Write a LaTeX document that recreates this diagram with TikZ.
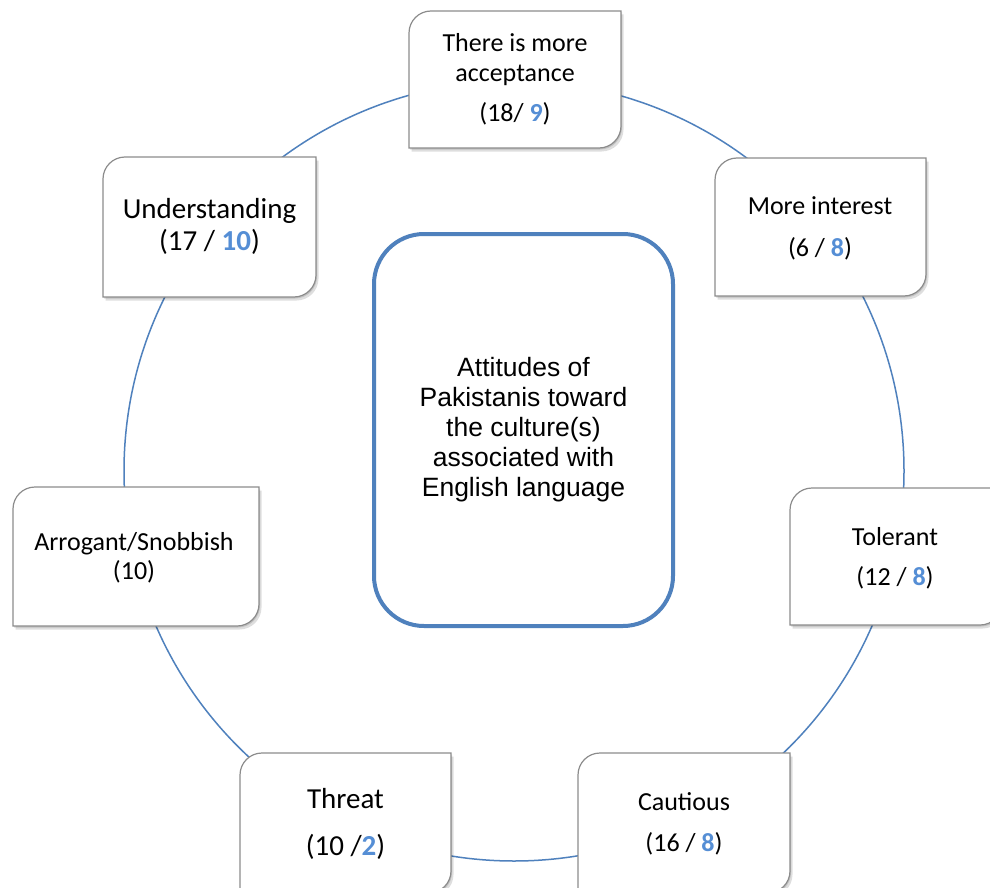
\documentclass[tikz,border=0pt]{standalone}
\usepackage{fontspec}
\setmainfont{Carlito}
\newfontfamily\hubfont{Liberation Sans}
\definecolor{ringblue}{HTML}{4F81BD}
\definecolor{numblue}{HTML}{558ED5}
\definecolor{cardgray}{HTML}{8C8C8C}
\newcommand\num[1]{\textcolor{numblue}{\textbf{#1}}}
% outline of a card: rounded top-left and bottom-right corners
\newcommand\cardoutline[1]{(#1.south west) -- ([yshift=-22pt]#1.north west)
  arc[start angle=180,end angle=90,radius=22pt] -- (#1.north east)
  -- ([yshift=22pt]#1.south east) arc[start angle=0,end angle=-90,radius=22pt] -- cycle}
\newcommand\card[1]{%
  \fill[cardshadow, transform canvas={shift={(1pt,-1.5pt)}}] \cardoutline{#1};
  \fill[cardshadow, transform canvas={shift={(2.5pt,-3.5pt)}}] \cardoutline{#1};
  \draw[cardframe] \cardoutline{#1};}
\begin{document}
\begin{tikzpicture}[x=1pt,y=-1pt,
  ring/.style={draw=ringblue, line width=1.5pt},
  cardframe/.style={draw=cardgray, line width=1.2pt, fill=white},
  cardshadow/.style={fill=black, opacity=0.13},
  slot/.style={draw=none, inner sep=0pt, outer sep=0pt, minimum width=#1},
  txt/.style={anchor=base, inner sep=0pt, font=\fontsize{26}{30}\selectfont},
  bigtxt/.style={anchor=base, inner sep=0pt, font=\fontsize{29}{34}\selectfont},
  hub/.style={draw=ringblue, line width=4pt, rounded corners=50pt, fill=white,
    minimum width=299pt, minimum height=392pt, align=center, inner sep=0pt,
    font=\hubfont\fontsize{26.5}{30}\selectfont}
]
\useasboundingbox[fill=white] (0,0) rectangle (990,888);

% the ring linking the attitudes
\node[circle, ring, minimum size=780pt, inner sep=0pt] (loop) at (514,471) {};

% card placeholders
\node[slot=212pt, minimum height=137pt] (acc) at (515,79.5) {};
\node[slot=213pt, minimum height=140pt] (und) at (209.5,227) {};
\node[slot=246pt, minimum height=139pt] (arr) at (136,556.5) {};
\node[slot=211pt, minimum height=140pt] (thr) at (345.5,823) {};
\node[slot=212pt, minimum height=140pt] (cau) at (684,823) {};
\node[slot=211pt, minimum height=138pt] (int) at (820.5,227) {};
\node[slot=212pt, minimum height=137pt] (tol) at (896,556.5) {};

\card{acc}\card{und}\card{arr}\card{thr}\card{cau}\card{int}\card{tol}

% card texts
\node[txt] (acc1) at (515,52) {There is more};
\node[txt] (acc2) at (515,82) {acceptance};
\node[txt] (acc3) at (515,122) {(18/ \num{9})};

\node[bigtxt] (und1) at (209.5,218) {Understanding};
\node[bigtxt] (und2) at (209.5,250) {(17 / \num{10})};

\node[txt] (arr1) at (134,550) {Arrogant/Snobbish};
\node[txt] (arr2) at (134,579) {(10)};

\node[bigtxt] (thr1) at (345.5,808) {Threat};
\node[bigtxt] (thr2) at (345.5,855) {(10 /\num{2})};

\node[txt] (cau1) at (684,810) {Cautious};
\node[txt] (cau2) at (684,851) {(16 / \num{8})};

\node[txt] (int1) at (820,214) {More interest};
\node[txt] (int2) at (820,256) {(6 / \num{8})};

\node[txt] (tol1) at (895,545) {Tolerant};
\node[txt] (tol2) at (895,585) {(12 / \num{8})};

% central topic
\node[hub] (hub) at (523.5,430) {Attitudes of\\Pakistanis toward\\the culture(s)\\associated with\\English language};
\end{tikzpicture}
\end{document}
